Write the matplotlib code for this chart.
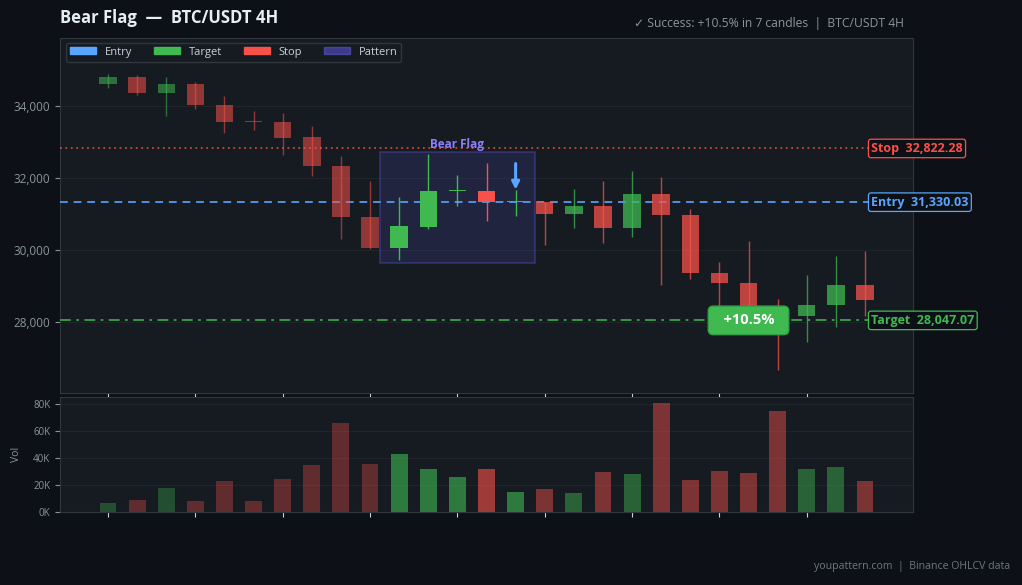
import matplotlib.pyplot as plt
from matplotlib.patches import Patch, Rectangle
from matplotlib.ticker import FuncFormatter, FixedLocator

plt.rcParams['font.family'] = ['Open Sans', 'DejaVu Sans']

# OHLCV data (BTC/USDT 4H)
opens = [34620, 34806, 34370, 34611, 34040, 33565, 33550, 33130, 32340, 30930,
         30060, 30650, 31630, 31640, 31330, 31325, 31010, 31220, 30620, 31555,
         30980, 29370, 29090, 28400, 28175, 28470, 29030]
closes = [34800, 34370, 34611, 34037, 33565, 33550, 33120, 32340, 30930, 30060,
          30660, 31640, 31645, 31330, 31345, 31010, 31220, 30620, 31555, 30980,
          29370, 29090, 28400, 28175, 28470, 29030, 28620]
highs = [34889, 34861, 34806, 34670, 34280, 33860, 33800, 33440, 32610, 31920,
         31470, 32670, 32080, 32420, 31670, 31330, 31690, 31920, 32195, 32030,
         31140, 29670, 30250, 28640, 29300, 29830, 29970]
lows = [34508, 34314, 33730, 33917, 33260, 33340, 32640, 32070, 30310, 30040,
        29720, 30580, 31220, 30815, 30945, 30140, 30620, 30200, 30370, 29040,
        29190, 28300, 28000, 26670, 27450, 27870, 28175]
volumes = [6.7, 8.9, 17.8, 8.1, 23.0, 8.1, 24.4, 34.8, 65.9, 35.6,
           43.0, 31.9, 26.0, 31.9, 14.8, 17.0, 14.1, 29.6, 28.1, 80.7,
           23.7, 30.4, 28.9, 74.8, 31.9, 33.3, 23.0]  # thousands

pattern_start, pattern_end = 10, 14
pattern_low, pattern_high = 29650, 32715
entry = 31330.03
stop = 32822.28
target = 28047.07
gain_label = '+10.5%'
badge_idx = 22

BG = '#0d1117'
PANEL = '#161b22'
GRID = '#21262d'
TXT = '#8b949e'
GREEN = '#3fb950'
RED = '#f85149'
BLUE = '#58a6ff'
PURPLE = '#6c63ff'

fig = plt.figure(figsize=(10.22, 5.85), dpi=100, facecolor=BG)
ax = fig.add_axes([60/1022, 192/585, 853/1022, 355/585], facecolor=PANEL)
axv = fig.add_axes([60/1022, 73/585, 853/1022, 115/585], facecolor=PANEL)

n = len(opens)
xs = list(range(n))
for i in xs:
    o, c, h, l = opens[i], closes[i], highs[i], lows[i]
    col = GREEN if c >= o else RED
    if pattern_start <= i <= pattern_end:
        a = 1.0
    elif i < pattern_start:
        a = 0.55
    else:
        a = 0.75
    ax.vlines(i, l, h, color=col, alpha=a, lw=1, zorder=3)
    ax.bar(i, max(abs(c - o), 45), bottom=min(o, c), width=0.6, color=col,
           alpha=a, zorder=4)
    axv.bar(i, volumes[i] * 1000, width=0.58, color=col, alpha=a * 0.6, zorder=3)

# pattern box
ax.add_patch(Rectangle((pattern_start - 0.65, pattern_low),
                       pattern_end - pattern_start + 1.3, pattern_high - pattern_low,
                       facecolor=PURPLE, alpha=0.13, edgecolor='none', zorder=2))
ax.add_patch(Rectangle((pattern_start - 0.65, pattern_low),
                       pattern_end - pattern_start + 1.3, pattern_high - pattern_low,
                       facecolor='none', edgecolor=PURPLE, alpha=0.3, lw=1.2, zorder=2))
ax.text((pattern_start + pattern_end) / 2, pattern_high + 30, 'Bear Flag', ha='center',
        va='bottom', fontsize=8.5, fontweight='bold', color='#8b80f9', zorder=6)

# breakout arrow
ax.annotate('', xy=(pattern_end, 31600), xytext=(pattern_end, 32480),
            arrowprops=dict(arrowstyle='-|>', color=BLUE, lw=2.2, mutation_scale=11),
            zorder=6)

# levels
ax.axhline(stop, color=RED, ls=(0, (1, 2)), lw=1.3, alpha=0.8, zorder=3)
ax.axhline(entry, color=BLUE, ls=(0, (4, 3)), lw=1.4, alpha=0.85, zorder=3)
ax.axhline(target, color=GREEN, ls=(0, (6, 3, 1.5, 3)), lw=1.3, alpha=0.85, zorder=3)

for name, val, col in [('Stop', stop, RED), ('Entry', entry, BLUE), ('Target', target, GREEN)]:
    ax.text(0.951, val, f'{name}  {val:,.2f}', transform=ax.get_yaxis_transform(),
            ha='left', va='center', fontsize=9, fontweight='bold', color=col,
            clip_on=False, zorder=8,
            bbox=dict(boxstyle='round,pad=0.22,rounding_size=0.2', fc=BG, ec=col, lw=0.9))

ax.text(badge_idx, target, '  ' + gain_label + '  ', ha='center', va='center',
        fontsize=10.5, fontweight='bold', color='white', zorder=9,
        bbox=dict(boxstyle='round,pad=0.5,rounding_size=0.35', fc=GREEN, ec='#2ea043', lw=1))

# axes styling
for a_ in (ax, axv):
    a_.set_xlim(-1.65, 27.65)
    a_.xaxis.set_major_locator(FixedLocator(range(0, n, 3)))
    a_.tick_params(axis='x', colors='#c9d1d9', labelbottom=False, length=3.5, width=0.8)
    a_.tick_params(axis='y', colors=TXT, labelcolor=TXT, length=3.5, width=0.8)
    a_.grid(axis='y', color=GRID, lw=0.7, zorder=0)
    a_.set_axisbelow(True)
    for s in a_.spines.values():
        s.set_color('#30363d')
        s.set_linewidth(0.8)

ax.set_ylim(26030, 35890)
ax.set_yticks([28000, 30000, 32000, 34000])
ax.yaxis.set_major_formatter(FuncFormatter(lambda v, p: f'{v:,.0f}'))
ax.tick_params(axis='y', labelsize=8.5)

axv.set_ylim(0, 85200)
axv.set_yticks([0, 20000, 40000, 60000, 80000])
axv.yaxis.set_major_formatter(FuncFormatter(lambda v, p: f'{v/1000:.0f}K'))
axv.tick_params(axis='y', labelsize=7)
axv.set_ylabel('Vol', color=TXT, fontsize=7.5, labelpad=8)

handles = [Patch(color=BLUE, label='Entry'), Patch(color=GREEN, label='Target'),
           Patch(color=RED, label='Stop'), Patch(color=PURPLE, alpha=0.45, label='Pattern')]
leg = ax.legend(handles=handles, loc='upper left', bbox_to_anchor=(0.002, 0.999),
                ncol=4, fontsize=8, frameon=True, facecolor=PANEL, edgecolor='#30363d',
                framealpha=1, handlelength=2.3, handleheight=0.6, columnspacing=2.0,
                borderaxespad=0.4, borderpad=0.35)
for t in leg.get_texts():
    t.set_color('#c9d1d9')

fig.text(60/1022, 1 - 18/585, 'Bear Flag  —  BTC/USDT 4H', fontsize=12,
         fontweight='bold', color='#e6edf3', ha='left', va='center')
fig.text(904/1022, 1 - 23/585, '✓ Success: +10.5% in 7 candles  |  BTC/USDT 4H',
         fontsize=8.7, color=TXT, ha='right', va='center')
fig.text(1010/1022, 1 - 567/585, 'youpattern.com  |  Binance OHLCV data',
         fontsize=7.6, color='#6e7681', ha='right', va='center')

fig.savefig('out.png', dpi=100, facecolor=BG)
